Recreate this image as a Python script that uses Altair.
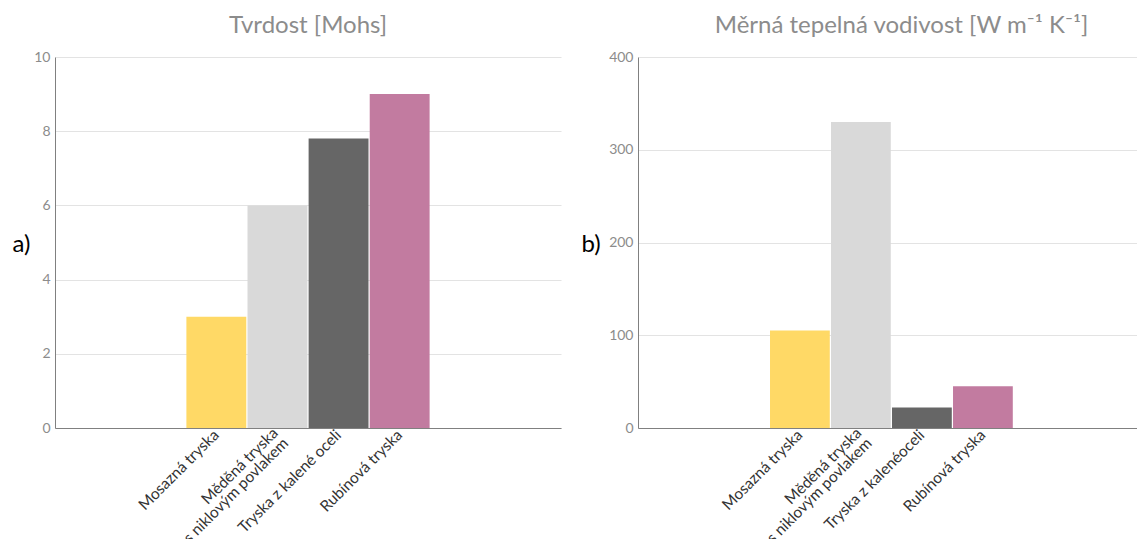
import altair as alt
import pandas as pd

# Nozzle types (the "|" marks a line break in the axis label)
nozzles_a = ["Mosazná tryska", "Měděná tryska|s niklovým povlakem", "Tryska z kalené oceli", "Rubínová tryska"]
nozzles_b = ["Mosazná tryska", "Měděná tryska|s niklovým povlakem", "Tryska z kalenéoceli", "Rubínová tryska"]
colors = ["#FFD966", "#D9D9D9", "#666666", "#C27BA0"]

hardness = [3, 6, 7.8, 9]            # Mohs
conductivity = [105, 330, 22, 45]    # W m^-1 K^-1

# empty slots on either side of the four bars
gap_left = ["~1", "~2"]
gap_right = ["~3", "~4"]

FONT = "Lato"
TWO_LINES = "indexof(datum.label, '|') >= 0"


def panel(names, values, title, title_dx, letter, width, y_ticks, y_max, pad_outer, align, letter_x):
    df = pd.DataFrame({"name": names, "value": values})
    domain = gap_left + names + gap_right
    return (
        alt.Chart(df)
        .mark_bar()
        .encode(
            x=alt.X(
                "name:N",
                scale=alt.Scale(domain=domain, paddingInner=0.02, paddingOuter=pad_outer, align=align),
                axis=alt.Axis(
                    title=None,
                    labelAngle=-45,
                    labelAlign="right",
                    labelBaseline="middle",
                    labelExpr="indexof(datum.label, '~') >= 0 ? '' : split(datum.label, '|')",
                    labelFont=FONT,
                    labelFontSize=15.5,
                    labelColor="#333333",
                    labelLineHeight=14.5,
                    labelPadding={"condition": {"test": TWO_LINES, "value": 2}, "value": 4},
                    labelOffset={"condition": {"test": TWO_LINES, "value": -2}, "value": 0},
                    ticks=False,
                    domainColor="#808080",
                    domainWidth=1.2,
                    grid=False,
                ),
            ),
            y=alt.Y(
                "value:Q",
                scale=alt.Scale(domain=[0, y_max], nice=False),
                axis=alt.Axis(
                    values=y_ticks,
                    ticks=False,
                    labelFont=FONT,
                    labelFontSize=14,
                    labelColor="#8C8C8C",
                    labelPadding=5,
                    domainColor="#808080",
                    gridColor="#E3E3E3",
                    title=letter,
                    titleAngle=0,
                    titleFont=FONT,
                    titleFontSize=24,
                    titleFontWeight="normal",
                    titleColor="#000000",
                    titleAlign="left",
                    titleBaseline="middle",
                    titleX=letter_x,
                    titleY=187,
                ),
            ),
            color=alt.Color("name:N", scale=alt.Scale(domain=names, range=colors), legend=None),
        )
        .properties(
            width=width,
            height=371,
            title=alt.TitleParams(title, font=FONT, fontSize=24, fontWeight="normal", color="#8C8C8C",
                                  offset=12, dx=title_dx),
        )
    )


left = panel(nozzles_a, hardness, "Tvrdost [Mohs]", 0, "a)", 506, [0, 2, 4, 6, 8, 10], 10, 0.15, 0.5, -43)
right = panel(nozzles_b, conductivity, "Měrná tepelná vodivost [W m⁻¹ K⁻¹]", 14, "b)", 499,
              [0, 100, 200, 300, 400], 400, 0.1, 0.82, -57)

chart = (
    alt.hconcat(left, right, spacing=20)
    .resolve_scale(color="independent")
    .properties(padding={"left": 12, "top": 14, "right": 0, "bottom": 0})
    .configure_view(stroke=None)
)

chart.save("out.html", embed_options={"renderer": "svg", "actions": False})
